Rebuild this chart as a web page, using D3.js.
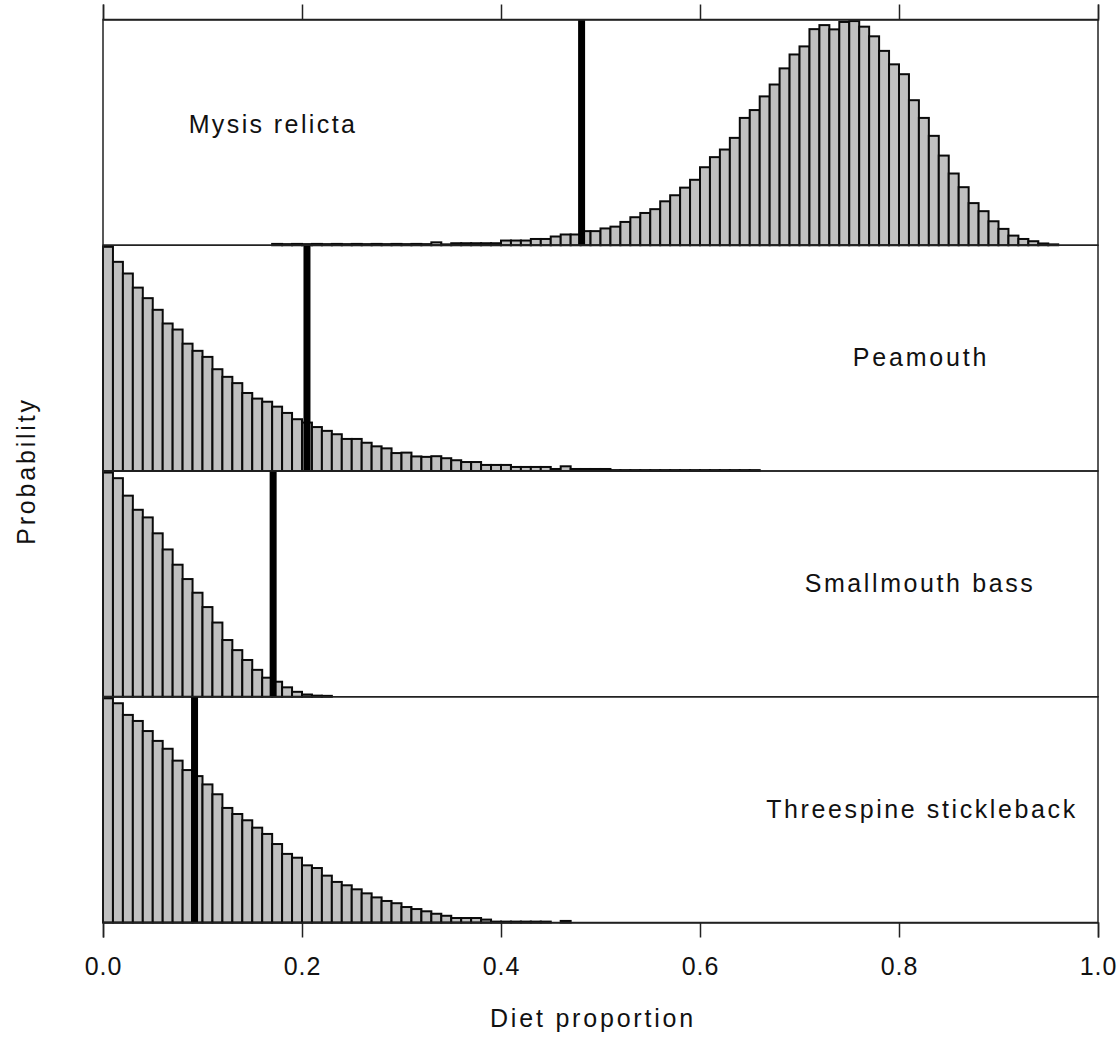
<!DOCTYPE html>
<html>
<head>
<meta charset="utf-8">
<script src="https://cdn.jsdelivr.net/npm/d3@7"></script>
<style>
  html, body { margin: 0; padding: 0; background: #fff; }
  svg { display: block; }
  text { font-family: Arial, "Liberation Sans", sans-serif; fill: #111; }
</style>
</head>
<body>
<svg id="chart" width="1120" height="1040"></svg>
<script>
// Posterior diet proportions, binned at 0.01, relative probability per bin
const species = ["Mysis relicta", "Peamouth", "Smallmouth bass", "Threespine stickleback"];
const binWidth = 0.01;
const firstBin = [0.17, 0.00, 0.00, 0.00];

const mysisProb = [
  0.006, 0.005, 0.006, 0.005, 0.006, 0.005, 0.006, 0.005,
  0.006, 0.005, 0.006, 0.005, 0.006, 0.005, 0.006, 0.005,
  0.013, 0.004, 0.009, 0.009, 0.009, 0.009, 0.009, 0.021,
  0.021, 0.021, 0.028, 0.028, 0.039, 0.048, 0.048, 0.063,
  0.063, 0.075, 0.083, 0.104, 0.125, 0.144, 0.161, 0.196,
  0.223, 0.257, 0.292, 0.348, 0.393, 0.427, 0.479, 0.568,
  0.603, 0.664, 0.717, 0.789, 0.851, 0.887, 0.964, 0.982,
  0.963, 0.996, 1.000, 0.975, 0.932, 0.867, 0.807, 0.763,
  0.647, 0.568, 0.488, 0.400, 0.320, 0.259, 0.188, 0.152,
  0.107, 0.073, 0.043, 0.028, 0.018, 0.008, 0.004
];

const peamouthProb = [
  1.000, 0.933, 0.881, 0.818, 0.771, 0.719, 0.658, 0.631,
  0.568, 0.536, 0.509, 0.454, 0.420, 0.392, 0.348, 0.323,
  0.309, 0.287, 0.259, 0.231, 0.216, 0.196, 0.179, 0.164,
  0.143, 0.143, 0.126, 0.110, 0.101, 0.080, 0.082, 0.065,
  0.063, 0.066, 0.057, 0.048, 0.040, 0.040, 0.027, 0.027,
  0.027, 0.018, 0.018, 0.018, 0.018, 0.009, 0.021, 0.009,
  0.009, 0.009, 0.009, 0.004, 0.004, 0.004, 0.004, 0.004,
  0.004, 0.004, 0.004, 0.004, 0.004, 0.004, 0.004, 0.004,
  0.004, 0.004
];

const smallmouthProb = [
  1.000, 0.975, 0.897, 0.834, 0.800, 0.729, 0.657, 0.589,
  0.525, 0.464, 0.400, 0.331, 0.253, 0.208, 0.164, 0.120,
  0.085, 0.067, 0.042, 0.022, 0.010, 0.005, 0.004
];

const sticklebackProb = [
  1.000, 0.978, 0.926, 0.899, 0.854, 0.810, 0.775, 0.722,
  0.680, 0.653, 0.616, 0.572, 0.511, 0.484, 0.456, 0.423,
  0.395, 0.350, 0.306, 0.289, 0.255, 0.243, 0.209, 0.181,
  0.166, 0.148, 0.130, 0.112, 0.096, 0.086, 0.069, 0.060,
  0.050, 0.039, 0.030, 0.020, 0.020, 0.020, 0.013, 0.004,
  0.004, 0.004, 0.004, 0.004, 0.004, 0.000, 0.007
];

// Point estimate drawn as a heavy vertical bar in each panel
const estimates = [0.481, 0.205, 0.171, 0.092];
const xTicks = [0.0, 0.2, 0.4, 0.6, 0.8, 1.0];
const xLabel = "Diet proportion";
const yLabel = "Probability";

const series = [mysisProb, peamouthProb, smallmouthProb, sticklebackProb];

// Layout
const plotLeft = 103, plotRight = 1098;
const plotTop = 19.5, plotBottom = 922.5;
const nPanels = species.length;
const panelH = (plotBottom - plotTop) / nPanels;
const labelPos = [
  { x: 273, dy: 113, spacing: "2.4px" },
  { x: 921, dy: 121, spacing: "2.8px" },
  { x: 920, dy: 121, spacing: "2.6px" },
  { x: 922, dy: 121, spacing: "2.6px" }
];

const svg = d3.select("#chart");

const x = d3.scaleLinear().domain([0, 1]).range([plotLeft, plotRight]);

series.forEach((vals, p) => {
  const top = plotTop + p * panelH;
  const bottom = top + panelH;
  const y = d3.scaleLinear()
    .domain([0, d3.max(vals) * 1.007])
    .range([bottom, top]);

  const g = svg.append("g").attr("class", "panel");

  const bins = vals.map((v, i) => ({ x0: firstBin[p] + i * binWidth, v }))
    .filter(d => d.v > 0);

  g.selectAll("rect.bar")
    .data(bins)
    .join("rect")
    .attr("class", "bar")
    .attr("x", d => x(d.x0))
    .attr("width", x(binWidth) - x(0))
    .attr("y", d => y(d.v))
    .attr("height", d => y(0) - y(d.v))
    .attr("fill", "#c0c0c0")
    .attr("stroke", "#0a0a0a")
    .attr("stroke-width", 2);

  // estimate line
  g.append("line")
    .attr("x1", x(estimates[p])).attr("x2", x(estimates[p]))
    .attr("y1", top).attr("y2", bottom)
    .attr("stroke", "#000")
    .attr("stroke-width", 7);

  // panel frame
  g.append("rect")
    .attr("x", plotLeft).attr("y", top)
    .attr("width", plotRight - plotLeft).attr("height", panelH)
    .attr("fill", "none")
    .attr("stroke", "#222")
    .attr("stroke-width", 1.5);

  const lp = labelPos[p];
  g.append("text")
    .attr("x", lp.x)
    .attr("y", top + lp.dy)
    .attr("text-anchor", "middle")
    .style("font-size", "25px")
    .style("letter-spacing", lp.spacing)
    .text(species[p]);
});

// Axes: ticks on top (unlabelled) and bottom (labelled)
const axTop = svg.append("g")
  .attr("transform", `translate(0,${plotTop})`)
  .call(d3.axisTop(x).tickValues(xTicks).tickSize(15).tickFormat(""));
const axBottom = svg.append("g")
  .attr("transform", `translate(0,${plotBottom})`)
  .call(d3.axisBottom(x).tickValues(xTicks).tickSize(15).tickPadding(20).tickFormat(d3.format(".1f")));

[axTop, axBottom].forEach(a => {
  a.select(".domain").attr("stroke", "#222").attr("stroke-width", 1.5);
  a.selectAll(".tick line").attr("stroke", "#222").attr("stroke-width", 1.5);
  a.selectAll(".tick text")
    .attr("fill", "#111")
    .style("font-family", "Arial, 'Liberation Sans', sans-serif")
    .style("font-size", "25px")
    .style("letter-spacing", "1px");
});

svg.append("text")
  .attr("x", 593)
  .attr("y", 1027)
  .attr("text-anchor", "middle")
  .style("font-size", "25px")
  .style("letter-spacing", "2.8px")
  .text(xLabel);

svg.append("text")
  .attr("transform", `translate(35,${(plotTop + plotBottom) / 2}) rotate(-90)`)
  .attr("text-anchor", "middle")
  .style("font-size", "25px")
  .style("letter-spacing", "2.8px")
  .text(yLabel);
</script>
</body>
</html>
